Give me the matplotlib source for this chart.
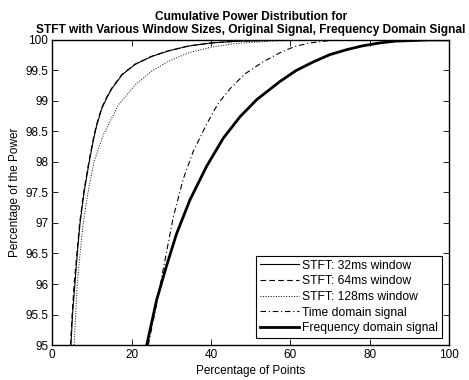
import numpy as np
import matplotlib.pyplot as plt

plt.rcParams['font.family'] = ['Liberation Sans', 'DejaVu Sans']

# values (percentage of points -> percentage of power)
stft32_x = [4.7, 5.1, 5.7, 6.3, 7.0, 8.0, 9.3, 10.4, 11.2, 12.5, 13.8, 15.0, 17.6, 20.9, 25.1, 29.3, 34.4, 40.0, 47.0, 55.0, 65.0, 100.0]
stft32_y = [95.0, 95.5, 96.0, 96.5, 97.0, 97.5, 98.0, 98.37, 98.6, 98.88, 99.06, 99.2, 99.43, 99.6, 99.73, 99.82, 99.9, 99.95, 99.98, 99.99, 100.0, 100.0]

stft64_x = [4.6, 5.0, 5.5, 6.2, 6.9, 7.9, 9.2, 10.3, 11.1, 12.4, 13.7, 14.9, 17.5, 20.8, 25.0, 29.2, 34.3, 40.0, 47.0, 55.0, 65.0, 100.0]
stft64_y = [95.0, 95.5, 96.0, 96.5, 97.0, 97.5, 98.0, 98.37, 98.6, 98.88, 99.06, 99.2, 99.43, 99.6, 99.73, 99.82, 99.9, 99.95, 99.98, 99.99, 100.0, 100.0]

stft128_x = [5.5, 5.9, 6.3, 7.0, 7.8, 9.0, 10.5, 12.9, 16.7, 21.0, 25.1, 29.3, 34.4, 40.0, 46.0, 55.0, 65.0, 100.0]
stft128_y = [95.0, 95.5, 96.0, 96.5, 97.0, 97.5, 98.0, 98.45, 98.94, 99.27, 99.49, 99.65, 99.79, 99.88, 99.94, 99.98, 100.0, 100.0]

time_x = [24.2, 26.5, 28.4, 30.5, 33.0, 35.5, 38.9, 41.8, 44.8, 48.5, 53.1, 57.4, 61.0, 64.9, 70.0, 80.0, 100.0]
time_y = [95.0, 95.74, 96.39, 97.1, 97.72, 98.17, 98.62, 98.96, 99.2, 99.44, 99.64, 99.79, 99.89, 99.95, 99.99, 100.0, 100.0]

freq_x = [23.8, 26.3, 28.8, 31.3, 34.7, 38.9, 43.1, 47.3, 51.5, 57.4, 61.5, 65.8, 70.0, 74.2, 78.0, 82.5, 86.5, 90.9, 95.0, 100.0]
freq_y = [95.0, 95.74, 96.3, 96.82, 97.38, 97.93, 98.39, 98.74, 99.02, 99.32, 99.5, 99.64, 99.76, 99.84, 99.9, 99.95, 99.98, 99.99, 100.0, 100.0]

y_ticks = [95, 95.5, 96, 96.5, 97, 97.5, 98, 98.5, 99, 99.5, 100]
y_labels = ['95', '95.5', '96', '96.5', '97', '97.5', '98', '98.5', '99', '99.5', '100']
x_ticks = [0, 20, 40, 60, 80, 100]

fig = plt.figure(figsize=(4.69, 3.80), dpi=100)
ax = fig.add_axes([0.1115, 0.092, 0.846, 0.803])

ax.plot(stft32_x, stft32_y, '-', color='black', lw=0.8, label='STFT: 32ms window')
ax.plot(stft64_x, stft64_y, '--', color='black', lw=0.8, dashes=(5, 3), label='STFT: 64ms window')
ax.plot(stft128_x, stft128_y, ':', color='black', lw=0.7, label='STFT: 128ms window')
ax.plot(time_x, time_y, '-.', color='black', lw=0.8, dashes=(5, 2.5, 1, 2.5), label='Time domain signal')
ax.plot(freq_x, freq_y, '-', color='black', lw=2.0, label='Frequency domain signal')

ax.set_xlim(0, 100)
ax.set_ylim(95, 100)
ax.set_xticks(x_ticks)
ax.set_yticks(y_ticks)
ax.set_yticklabels(y_labels)
ax.tick_params(direction='in', top=True, right=True, labelsize=8.5, length=4, width=0.6, pad=3)
for s in ax.spines.values():
    s.set_linewidth(1.0)

ax.set_xlabel('Percentage of Points', fontsize=8.5, labelpad=3)
ax.set_ylabel('Percentage of the Power', fontsize=8.5, labelpad=3)
ax.set_title('Cumulative Power Distribution for\nSTFT with Various Window Sizes, Original Signal, Frequency Domain Signal',
             fontsize=8.6, fontweight='bold', pad=5, linespacing=1.15)

leg = ax.legend(loc='lower right', fontsize=8.7, frameon=True, fancybox=False,
                edgecolor='black', framealpha=1, borderpad=0.3, labelspacing=0.3,
                handlelength=3.2, handletextpad=0.3, borderaxespad=0.6)
leg.get_frame().set_linewidth(0.8)

fig.savefig('out.png', dpi=100)
